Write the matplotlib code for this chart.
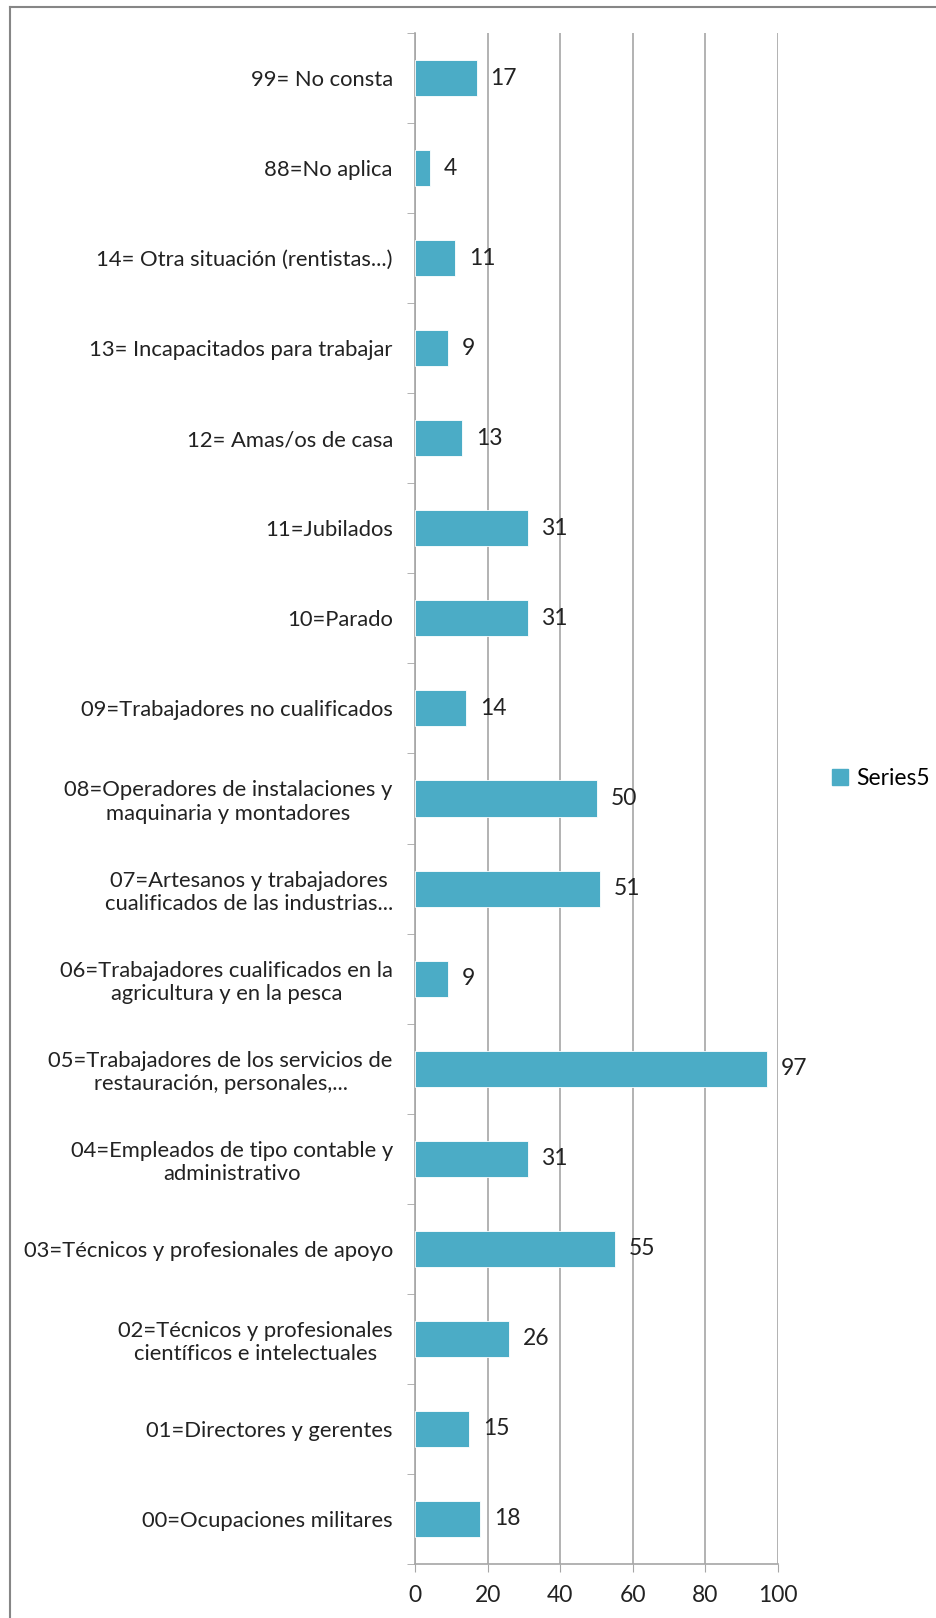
import matplotlib.pyplot as plt
from matplotlib.patches import Patch
import numpy as np

plt.rcParams['font.family'] = ['Lato', 'DejaVu Sans']

labels = [
    '00=Ocupaciones militares',
    '01=Directores y gerentes',
    '02=Técnicos y profesionales\ncientíficos e intelectuales',
    '03=Técnicos y profesionales de apoyo',
    '04=Empleados de tipo contable y\nadministrativo',
    '05=Trabajadores de los servicios de\nrestauración, personales,...',
    '06=Trabajadores cualificados en la\nagricultura y en la pesca',
    '07=Artesanos y trabajadores\ncualificados de las industrias...',
    '08=Operadores de instalaciones y\nmaquinaria y montadores',
    '09=Trabajadores no cualificados',
    '10=Parado',
    '11=Jubilados',
    '12= Amas/os de casa',
    '13= Incapacitados para trabajar',
    '14= Otra situación (rentistas...)',
    '88=No aplica',
    '99= No consta',
]
values = [18, 15, 26, 55, 31, 97, 9, 51, 50, 14, 31, 31, 13, 9, 11, 4, 17]
xticks = [0, 20, 40, 60, 80, 100]

bar_color = '#4BACC6'
grid_color = '#A6A6A6'
fs = 15.8

fig = plt.figure(figsize=(9.36, 16.18), dpi=100)
ax = fig.add_axes([415 / 936, 1 - 1564 / 1618, 363 / 936, (1564 - 33) / 1618])

y = np.arange(len(labels))
ax.barh(y, values, height=0.4, color=bar_color, edgecolor='white', linewidth=0.6, zorder=3)
for yi, v in zip(y, values):
    ax.text(v + 3.8, yi, str(v), va='center', ha='left', fontsize=16.5, color='#222222', zorder=4)

ax.set_xlim(0, 100)
ax.set_ylim(-0.5, len(labels) - 0.5)
ax.set_xticks(xticks)
ax.set_xticklabels([str(t) for t in xticks], fontsize=16.5, color='#222222')
ax.set_yticks(y)
ax.set_yticklabels(labels, fontsize=fs, color='#222222', multialignment='center')
ax.set_yticks(np.arange(len(labels) + 1) - 0.5, minor=True)
ax.tick_params(axis='y', which='major', length=0, pad=16)
ax.tick_params(axis='y', which='minor', length=6, color=grid_color, direction='out')
ax.tick_params(axis='x', length=6, color=grid_color, pad=9)
ax.grid(axis='x', color=grid_color, linewidth=1.2, zorder=0)

for s in ['top', 'right']:
    ax.spines[s].set_visible(False)
for s in ['left', 'bottom']:
    ax.spines[s].set_color(grid_color)
    ax.spines[s].set_linewidth(1.2)

leg = fig.legend(handles=[Patch(color=bar_color, label='Series5')],
                 loc='center left', bbox_to_anchor=(832 / 936, 1 - 779 / 1618),
                 frameon=False, fontsize=16.5, handlelength=0.7, handleheight=0.7,
                 handletextpad=0.35, borderaxespad=0, borderpad=0)

# outer chart frame (only left and top edges are visible in the picture)
fig.add_artist(plt.Line2D([10 / 936, 10 / 936], [0, 1 - 7 / 1618], transform=fig.transFigure,
                          color='#868686', linewidth=1.5))
fig.add_artist(plt.Line2D([10 / 936, 1], [1 - 7 / 1618, 1 - 7 / 1618], transform=fig.transFigure,
                          color='#868686', linewidth=1.5))

fig.savefig('out.png', dpi=100)
